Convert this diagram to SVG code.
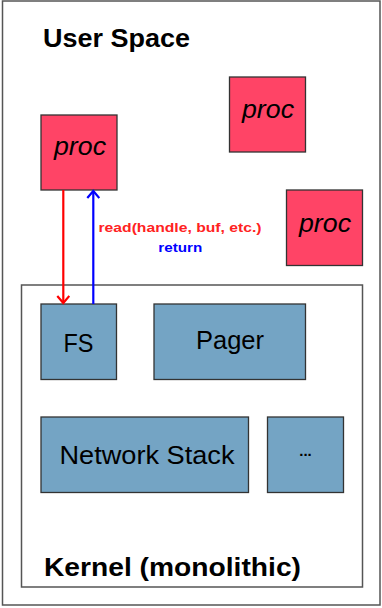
<svg xmlns="http://www.w3.org/2000/svg" width="382" height="608" viewBox="0 0 382 608">
<defs>
<style>
.frame{fill:#fff;stroke:#555;stroke-width:1.5}
.proc rect{fill:#ff4466;stroke:#333;stroke-width:1.3}
.proc text{font-family:"Liberation Sans",Arial,sans-serif;font-style:italic;font-size:25px;fill:#000;text-anchor:middle}
.mod rect{fill:#74a4c4;stroke:#333;stroke-width:1.3}
.mod text{font-family:"Liberation Sans",Arial,sans-serif;font-size:26px;fill:#000;text-anchor:middle}
.title{font-family:"Liberation Sans",Arial,sans-serif;font-weight:bold;font-size:25px;fill:#000}
.lbl{font-family:"Liberation Sans",Arial,sans-serif;font-weight:bold;font-size:12.5px;text-anchor:middle}
</style>
<marker id="ahr" viewBox="0 0 14 14" refX="12" refY="7" markerWidth="14" markerHeight="14" markerUnits="userSpaceOnUse" orient="auto"><path d="M5,1 L12,7 L5,13" fill="none" stroke="#ff0000" stroke-width="2.2"/></marker>
<marker id="ahb" viewBox="0 0 14 14" refX="12" refY="7" markerWidth="14" markerHeight="14" markerUnits="userSpaceOnUse" orient="auto"><path d="M5,1 L12,7 L5,13" fill="none" stroke="#0000ff" stroke-width="2.2"/></marker>
</defs>
<rect class="frame" x="2.5" y="1" width="377.5" height="604"/>
<text class="title" x="43" y="47" textLength="147" lengthAdjust="spacingAndGlyphs">User Space</text>
<rect class="frame" x="21.5" y="285" width="341" height="302" stroke-width="1.2"/>
<text class="title" x="44" y="576" textLength="257" lengthAdjust="spacingAndGlyphs">Kernel (monolithic)</text>

<g id="proc1" class="proc"><rect x="41" y="115" width="76" height="75"/><text x="80" y="155" textLength="52" lengthAdjust="spacingAndGlyphs">proc</text></g>
<g id="proc2" class="proc"><rect x="229.5" y="77" width="76" height="75"/><text x="268" y="118" textLength="52" lengthAdjust="spacingAndGlyphs">proc</text></g>
<g id="proc3" class="proc"><rect x="286.5" y="190" width="76" height="75.5"/><text x="325" y="231.5" textLength="52" lengthAdjust="spacingAndGlyphs">proc</text></g>

<g id="fs" class="mod"><rect x="41" y="304" width="75.5" height="75.5"/><text x="78.5" y="352" textLength="30" lengthAdjust="spacingAndGlyphs">FS</text></g>
<g id="pager" class="mod"><rect x="154" y="304" width="151.5" height="75.5"/><text x="230" y="349" textLength="68" lengthAdjust="spacingAndGlyphs">Pager</text></g>
<g id="netstack" class="mod"><rect x="41" y="417" width="207.5" height="75.5"/><text x="147" y="464" textLength="175" lengthAdjust="spacingAndGlyphs">Network Stack</text></g>
<g id="more" class="mod"><rect x="267.5" y="417" width="76" height="75.5"/><text x="305.5" y="456" style="font-size:15px;font-weight:bold">...</text></g>

<g id="connectors">
<line x1="63.3" y1="190" x2="63.3" y2="303" stroke="#ff0000" stroke-width="2.2" marker-end="url(#ahr)"/>
<line x1="93.3" y1="304" x2="93.3" y2="191" stroke="#0000ff" stroke-width="2.2" marker-end="url(#ahb)"/>
<text class="lbl" x="180" y="232" fill="#ff2222" textLength="163" lengthAdjust="spacingAndGlyphs">read(handle, buf, etc.)</text>
<text class="lbl" x="180.3" y="252" fill="#0000ff" textLength="44" lengthAdjust="spacingAndGlyphs">return</text>
</g>
</svg>
